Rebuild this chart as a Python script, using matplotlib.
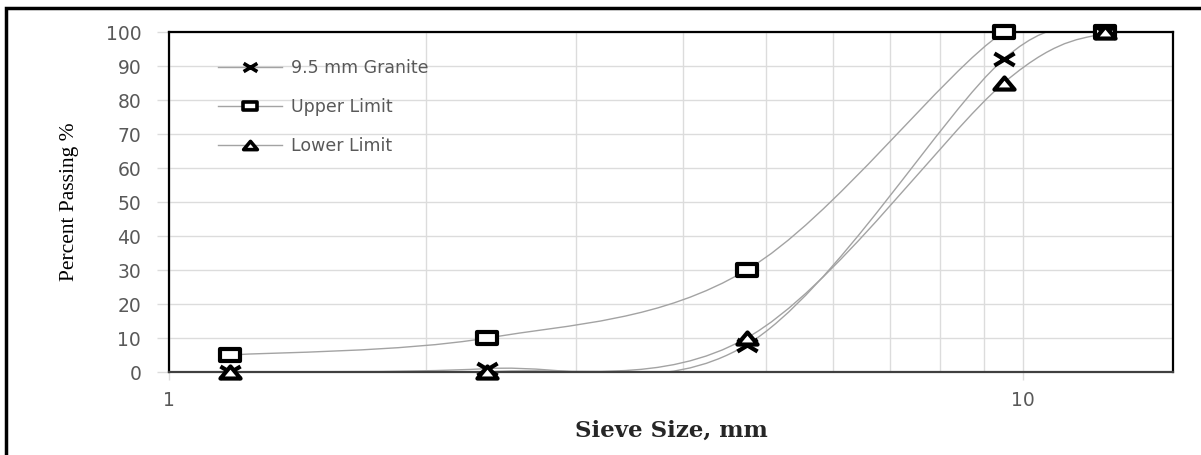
import numpy as np
import matplotlib
matplotlib.use("Agg")
import matplotlib.pyplot as plt
from matplotlib.path import Path
from matplotlib.patches import PathPatch, Rectangle
from matplotlib.lines import Line2D
from matplotlib.ticker import FixedLocator, NullFormatter

# dane z wykresu (sito w mm, przesiew w %)
sieve_mm = [1.18, 2.36, 4.75, 9.5, 12.5]
granite = [0, 1, 8, 92, 100]
upper_limit = [5, 10, 30, 100, 100]
lower_limit = [0, 0, 10, 85, 100]
series_names = ["9.5 mm Granite", "Upper Limit", "Lower Limit"]
y_ticks = list(range(0, 101, 10))

LINE_GREY = "#a3a3a3"
TXT_GREY = "#595959"


def smooth_path(xs, ys):
    # wygładzona linia jak w Excelu (Bezier, styczne z sąsiednich punktów)
    lx = np.log10(np.asarray(xs, float))
    yy = np.asarray(ys, float)
    pts = np.column_stack([lx, yy])
    n = len(pts)
    verts = [pts[0]]
    codes = [Path.MOVETO]
    for i in range(n - 1):
        p0 = pts[max(i - 1, 0)]
        p1 = pts[i]
        p2 = pts[i + 1]
        p3 = pts[min(i + 2, n - 1)]
        c1 = p1 + (p2 - p0) / 6.0
        c2 = p2 - (p3 - p1) / 6.0
        verts += [c1, c2, p2]
        codes += [Path.CURVE4] * 3
    verts = np.array(verts)
    verts[:, 0] = 10 ** verts[:, 0]
    return Path(verts, codes)


# markery rozciągnięte w poziomie
m_square = Path([(-0.5, -0.3), (0.5, -0.3), (0.5, 0.3), (-0.5, 0.3), (-0.5, -0.3)],
                [Path.MOVETO, Path.LINETO, Path.LINETO, Path.LINETO, Path.CLOSEPOLY])
m_cross = Path([(-0.5, -0.3), (0.5, 0.3), (-0.5, 0.3), (0.5, -0.3)],
               [Path.MOVETO, Path.LINETO, Path.MOVETO, Path.LINETO])
m_tri = Path([(-0.5, -0.3), (0.5, -0.3), (0.0, 0.3), (-0.5, -0.3)],
             [Path.MOVETO, Path.LINETO, Path.LINETO, Path.CLOSEPOLY])

fig = plt.figure(figsize=(12.01, 4.55), dpi=100)
ax = fig.add_axes([169 / 1201, 1 - 372 / 455, (1173 - 169) / 1201, (372 - 32) / 455])

styles = [
    (granite, m_cross, "black", 4),
    (upper_limit, m_square, "white", 3),
    (lower_limit, m_tri, "white", 5),
]

handles = []
for (vals, mk, fc, z), name in zip(styles, series_names):
    ax.add_patch(PathPatch(smooth_path(sieve_mm, vals), fill=False,
                           edgecolor=LINE_GREY, lw=1.0, zorder=2))
    ax.plot(sieve_mm, vals, linestyle="none", marker=mk, markersize=14.5,
            markerfacecolor=fc, markeredgecolor="black", markeredgewidth=3.0,
            zorder=z, clip_on=False)
    handles.append(Line2D([], [], color=LINE_GREY, lw=1.0, marker=mk,
                          markersize=14.5, markerfacecolor=fc,
                          markeredgecolor="black", markeredgewidth=2.6))

ax.set_xscale("log")
ax.set_xlim(1, 15)
ax.set_ylim(0, 100)

ax.xaxis.set_major_locator(FixedLocator([1, 10]))
ax.xaxis.set_minor_locator(FixedLocator([2, 3, 4, 5, 6, 7, 8, 9]))
ax.xaxis.set_minor_formatter(NullFormatter())
ax.set_xticklabels(["1", "10"])
ax.set_yticks(y_ticks)

ax.grid(True, which="both", color="#dcdcdc", lw=1.0, zorder=0)
ax.set_axisbelow(True)
ax.tick_params(axis="y", length=9, color="#dcdcdc", width=1.0, pad=11,
               labelsize=13.5, labelcolor=TXT_GREY)
ax.tick_params(axis="x", which="major", length=6, color="#dcdcdc", width=1.0,
               pad=8, labelsize=13.5, labelcolor=TXT_GREY)
ax.tick_params(axis="x", which="minor", length=0)

for side, sp in ax.spines.items():
    sp.set_color("black")
    sp.set_linewidth(1.6)
ax.spines["bottom"].set_color("#404040")

ax.set_ylabel("Percent Passing %", family="Liberation Serif", fontsize=15.5,
              labelpad=19)
ax.set_xlabel("Sieve Size, mm", family="DejaVu Serif", fontweight="bold",
              fontsize=16.5, labelpad=7, color="#262626")

leg = ax.legend(handles, series_names, loc="upper left",
                bbox_to_anchor=(0.042, 0.94), frameon=False,
                handlelength=3.7, markerscale=0.68, labelspacing=1.2,
                handletextpad=0.5, fontsize=12.5, borderaxespad=0)
for t in leg.get_texts():
    t.set_color(TXT_GREY)

# ramka obrazka (widoczna tylko z lewej i u góry)
fig.add_artist(Rectangle((6 / 1201, -0.2), 1.5, 1.2 - 8 / 455,
                         transform=fig.transFigure, fill=False,
                         edgecolor="black", lw=2.5, clip_on=False))

fig.savefig("out.png", dpi=100)
